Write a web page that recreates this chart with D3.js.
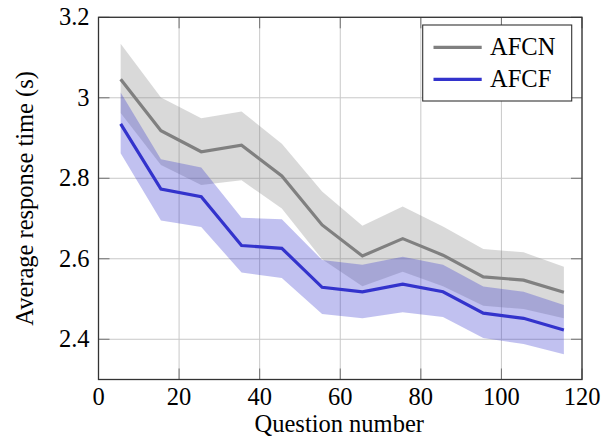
<!DOCTYPE html>
<html>
<head>
<meta charset="utf-8">
<script src="https://cdnjs.cloudflare.com/ajax/libs/d3/7.8.5/d3.min.js"></script>
<style>
  html, body { margin: 0; padding: 0; background: #fff; }
  svg { display: block; }
</style>
</head>
<body>
<svg id="chart" width="614" height="436"></svg>
<script>
// ---- data ----
const questions = [5.5, 15.5, 25.5, 35.5, 45.5, 55.5, 65.5, 75.5, 85.5, 95.5, 105.5, 115.5];
const afcnMean  = [3.046, 2.918, 2.866, 2.882, 2.806, 2.684, 2.607, 2.650, 2.609, 2.555, 2.547, 2.517];
const afcnUpper = [3.134, 3.001, 2.949, 2.966, 2.886, 2.767, 2.682, 2.730, 2.680, 2.624, 2.616, 2.580];
const afcnLower = [2.962, 2.833, 2.783, 2.795, 2.725, 2.599, 2.532, 2.568, 2.532, 2.483, 2.475, 2.452];
const afcfMean  = [2.935, 2.773, 2.754, 2.633, 2.626, 2.529, 2.518, 2.537, 2.518, 2.465, 2.452, 2.423];
const afcfUpper = [3.013, 2.847, 2.827, 2.702, 2.698, 2.597, 2.585, 2.605, 2.585, 2.531, 2.518, 2.485];
const afcfLower = [2.862, 2.695, 2.679, 2.566, 2.552, 2.463, 2.452, 2.467, 2.455, 2.403, 2.388, 2.363];
const xTicks = [0, 20, 40, 60, 80, 100, 120];
const yTicks = [2.4, 2.6, 2.8, 3.0, 3.2];
const yTickLabels = ["2.4", "2.6", "2.8", "3", "3.2"];
const seriesNames = ["AFCN", "AFCF"];
const xLabel = "Question number";
const yLabel = "Average response time (s)";

// ---- layout ----
const FONT = "'Liberation Serif', 'Times New Roman', Times, 'DejaVu Serif', serif";
const L = 98.5, R = 582, T = 17.3, B = 379.5;
const svg = d3.select("#chart");
const x = d3.scaleLinear().domain([0, 120]).range([L, R]);
const y = d3.scaleLinear().domain([2.3, 3.2]).range([B, T]);

const series = [
  { name: seriesNames[0], mean: afcnMean, lo: afcnLower, hi: afcnUpper, line: "#808080", fill: "#808080", op: 0.3 },
  { name: seriesNames[1], mean: afcfMean, lo: afcfLower, hi: afcfUpper, line: "#3333cc", fill: "#3333cc", op: 0.3 }
];

// grid
const grid = svg.append("g");
grid.selectAll("line.gx").data(xTicks).join("line")
  .attr("x1", d => x(d)).attr("x2", d => x(d)).attr("y1", T).attr("y2", B)
  .attr("stroke", "#c8c8c8").attr("stroke-width", 1);
grid.selectAll("line.gy").data(yTicks).join("line")
  .attr("y1", d => y(d)).attr("y2", d => y(d)).attr("x1", L).attr("x2", R)
  .attr("stroke", "#c8c8c8").attr("stroke-width", 1);

// bands
const area = d3.area().x((d, i) => x(questions[i])).y0(d => y(d[0])).y1(d => y(d[1]));
series.forEach(s => {
  svg.append("path")
    .datum(s.lo.map((v, i) => [v, s.hi[i]]))
    .attr("d", area)
    .attr("fill", s.fill).attr("fill-opacity", s.op).attr("stroke", "none");
});

// lines
const line = d3.line().x((d, i) => x(questions[i])).y(d => y(d));
series.forEach(s => {
  svg.append("path").datum(s.mean).attr("d", line)
    .attr("fill", "none").attr("stroke", s.line).attr("stroke-width", 3.2)
    .attr("stroke-linejoin", "miter");
});

// ticks (inward, all four sides)
const tk = 11;
const ticks = svg.append("g").attr("stroke", "#707070").attr("stroke-width", 1);
xTicks.forEach(d => {
  ticks.append("line").attr("x1", x(d)).attr("x2", x(d)).attr("y1", B).attr("y2", B - tk);
  ticks.append("line").attr("x1", x(d)).attr("x2", x(d)).attr("y1", T).attr("y2", T + tk);
});
yTicks.forEach(d => {
  ticks.append("line").attr("y1", y(d)).attr("y2", y(d)).attr("x1", L).attr("x2", L + tk);
  ticks.append("line").attr("y1", y(d)).attr("y2", y(d)).attr("x1", R).attr("x2", R - tk);
});

// frame
svg.append("rect").attr("x", L).attr("y", T).attr("width", R - L).attr("height", B - T)
  .attr("fill", "none").attr("stroke", "#333").attr("stroke-width", 1.3);

// tick labels
const fs = 24.5;
svg.append("g").selectAll("text").data(xTicks).join("text")
  .attr("x", d => x(d)).attr("y", 404.5).attr("text-anchor", "middle")
  .attr("font-family", FONT).attr("font-size", fs).text(d => d);
svg.append("g").selectAll("text").data(yTicks).join("text")
  .attr("x", 89.5).attr("y", d => y(d)).attr("dy", "0.33em").attr("text-anchor", "end")
  .attr("font-family", FONT).attr("font-size", fs).text((d, i) => yTickLabels[i]);

// axis labels
svg.append("text").attr("x", (L + R) / 2 - 1).attr("y", 431.5).attr("text-anchor", "middle")
  .attr("font-family", FONT).attr("font-size", fs).text(xLabel);
svg.append("text").attr("transform", `translate(33,${(T + B) / 2}) rotate(-90)`)
  .attr("text-anchor", "middle").attr("font-family", FONT).attr("font-size", fs).text(yLabel);

// legend
const lg = svg.append("g");
lg.append("rect").attr("x", 422.7).attr("y", 25).attr("width", 149).attr("height", 76)
  .attr("fill", "#fff").attr("stroke", "#333").attr("stroke-width", 1.1);
series.forEach((s, i) => {
  const ly = 47.3 + i * 32;
  lg.append("line").attr("x1", 433.5).attr("x2", 481.7).attr("y1", ly).attr("y2", ly)
    .attr("stroke", s.line).attr("stroke-width", 3.2);
  lg.append("text").attr("x", 490).attr("y", 55 + i * 32.3)
    .attr("font-family", FONT).attr("font-size", fs).text(s.name);
});
</script>
</body>
</html>
